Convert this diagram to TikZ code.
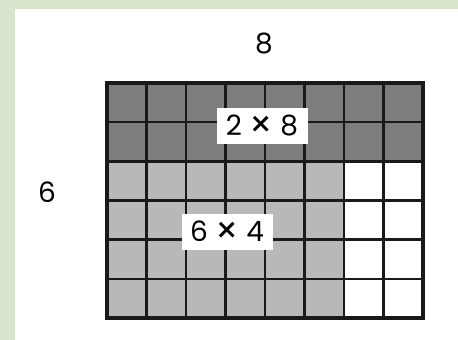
\documentclass[tikz,border=0pt]{standalone}
\usepackage{fontspec}
\setmainfont{Poppins}
\definecolor{paperedge}{RGB}{216,228,204}
\definecolor{darkgrey}{RGB}{125,125,125}
\definecolor{lightgrey}{RGB}{184,184,184}
\newcommand{\bigtimes}{\raisebox{-0.07em}{\scalebox{1.3}{×}}}
\begin{document}
\begin{tikzpicture}[x=1pt, y=1pt,
    darkcell/.style={fill=darkgrey},
    lightcell/.style={fill=lightgrey},
    gridline/.style={draw=black!90, line width=2.4pt},
    frameline/.style={draw=black!90, line width=4.5pt},
    tag/.style={rectangle, fill=white, minimum width=91pt, minimum height=36pt, inner sep=0pt, font=\fontsize{28}{32}\selectfont},
    dimlabel/.style={font=\fontsize{28}{32}\selectfont, inner sep=0pt}
]
    \useasboundingbox (0,0) rectangle (458,340);
    % paper edge
    \fill[paperedge] (0,0) rectangle (15,340);
    \fill[paperedge] (0,331) rectangle (458,340);

    % shaded rows and columns
    \fill[darkcell] (107,178.7) rectangle (423,257);
    \fill[lightcell] (107,22) rectangle (344,178.7);

    % grid
    \foreach \i in {1,...,7}
        \draw[gridline] (107+\i*39.5,22) -- ++(0,235);
    \foreach \j in {1,...,5}
        \draw[gridline] (107,22+\j*39.17) -- ++(316,0);
    \draw[frameline] (107,22) rectangle (423,257);

    % dimensions
    \node[dimlabel] (cols) at (264,296) {8};
    \node[dimlabel] (rows) at (47,148) {6};

    % part labels
    \node[tag] (top) at (262,214) {2 \bigtimes{} 8};
    \node[tag] (bottom) at (227,108) {6 \bigtimes{} 4};
\end{tikzpicture}
\end{document}
